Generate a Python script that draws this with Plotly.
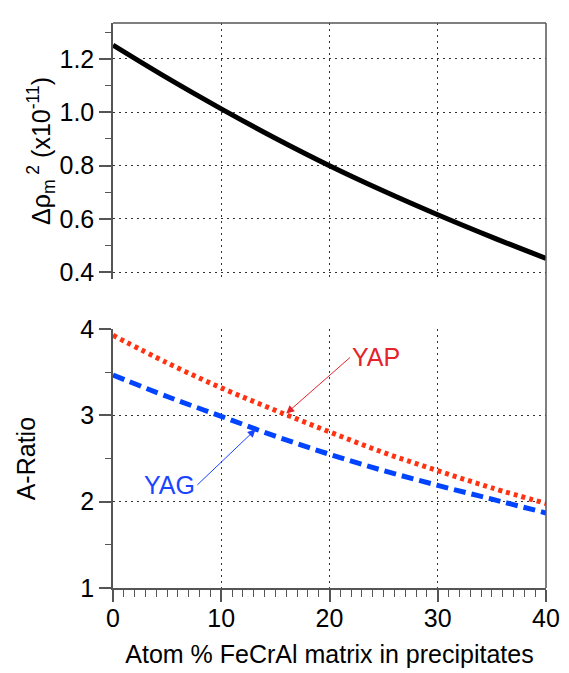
import plotly.graph_objects as go

# Data
x_pct = [0, 5, 10, 15, 20, 25, 30, 35, 40]
drho2 = [1.252, 1.129, 1.013, 0.903, 0.800, 0.705, 0.616, 0.532, 0.452]
yap_ratio = [3.93, 3.61, 3.32, 3.06, 2.81, 2.57, 2.36, 2.16, 1.98]
yag_ratio = [3.47, 3.22, 2.99, 2.76, 2.55, 2.36, 2.19, 2.03, 1.87]

FONT = "Liberation Sans, Arial, Helvetica, sans-serif"
AX = "#555555"
GRID = "#333333"
RED = "#ff3311"
BLUE = "#0044ff"
FS = 25

fig = go.Figure()
fig.add_trace(go.Scatter(x=x_pct, y=drho2, mode="lines", line=dict(color="black", width=5, shape="spline"),
                         xaxis="x2", yaxis="y", showlegend=False))
fig.add_trace(go.Scatter(x=x_pct, y=yap_ratio, mode="lines",
                         line=dict(color=RED, width=5, dash="4px,4px", shape="spline"),
                         xaxis="x", yaxis="y2", showlegend=False))
fig.add_trace(go.Scatter(x=x_pct, y=yag_ratio, mode="lines",
                         line=dict(color=BLUE, width=5, dash="12px,6px", shape="spline"),
                         xaxis="x", yaxis="y2", showlegend=False))

common_grid = dict(showgrid=True, gridcolor=GRID, gridwidth=1, griddash="2px,4px", zeroline=False)

fig.update_layout(
    width=569, height=673,
    margin=dict(l=113, r=16, t=9, b=83),
    paper_bgcolor="white", plot_bgcolor="white",
    font=dict(family=FONT, size=FS, color="black"),
    xaxis=dict(domain=[0, 1], range=[0, 40], anchor="y2", tickvals=[0, 10, 20, 30, 40],
               ticks="outside", ticklen=12, tickwidth=1.5, tickcolor=AX,
               showline=True, linecolor=AX, linewidth=1.5, ticklabelstandoff=-5,
               minor=dict(dtick=1, ticks="outside", ticklen=7, tickcolor=AX, tickwidth=1, showgrid=False),
               tickfont=dict(size=FS),
               title=dict(text="Atom % FeCrAl matrix in precipitates", font=dict(size=FS), standoff=15),
               **common_grid),
    yaxis2=dict(domain=[0, 0.458], range=[1, 4], anchor="x", tickvals=[1, 2, 3, 4],
                ticks="outside", ticklen=12, tickwidth=1.5, tickcolor=AX,
                showline=True, linecolor=AX, linewidth=1.5,
                minor=dict(dtick=0.5, ticks="outside", ticklen=6, tickcolor=AX, tickwidth=1, showgrid=False),
                tickfont=dict(size=FS),
                title=dict(text="A-Ratio", font=dict(size=FS), standoff=38),
                **common_grid),
    xaxis2=dict(domain=[0, 1], range=[0, 40], anchor="y", tickvals=[0, 10, 20, 30, 40],
                showticklabels=False, ticks="", showline=False, **common_grid),
    yaxis=dict(domain=[0.547, 1], range=[0.375, 1.335], anchor="x2",
               tickvals=[0.4, 0.6, 0.8, 1.0, 1.2], ticktext=["0.4", "0.6", "0.8", "1.0", "1.2"],
               ticks="outside", ticklen=12, tickwidth=1.5, tickcolor=AX,
               showline=True, linecolor=AX, linewidth=1.5,
               minor=dict(dtick=0.1, tick0=0.3, ticks="outside", ticklen=6, tickcolor=AX, tickwidth=1, showgrid=False),
               tickfont=dict(size=FS),
               title=dict(text="Δρ<sub>m</sub><sup> 2</sup> (x10<sup>-11</sup>)", font=dict(size=FS), standoff=2),
               **common_grid),
    shapes=[
        dict(type="line", xref="paper", yref="paper", x0=1, x1=1, y0=0, y1=1,
             line=dict(color=AX, width=1.5)),
        dict(type="line", xref="paper", yref="paper", x0=0, x1=1, y0=1, y1=1,
             line=dict(color=AX, width=1.5)),
    ],
    annotations=[
        dict(x=16.0, y=3.023, xref="x", yref="y2", ax=21.9, ay=3.673, axref="x", ayref="y2",
             text="YAP", xanchor="left", yanchor="middle", showarrow=True,
             arrowhead=2, arrowsize=1.6, arrowwidth=1, arrowcolor="#e3242b",
             font=dict(size=FS, color="#e3242b")),
        dict(x=13.18, y=2.84, xref="x", yref="y2", ax=7.8, ay=2.196, axref="x", ayref="y2",
             text="YAG", xanchor="right", yanchor="middle", showarrow=True,
             arrowhead=2, arrowsize=1.6, arrowwidth=1, arrowcolor="#1a44ff",
             font=dict(size=FS, color="#1a44ff")),
    ],
)

fig.write_html("out.html")
